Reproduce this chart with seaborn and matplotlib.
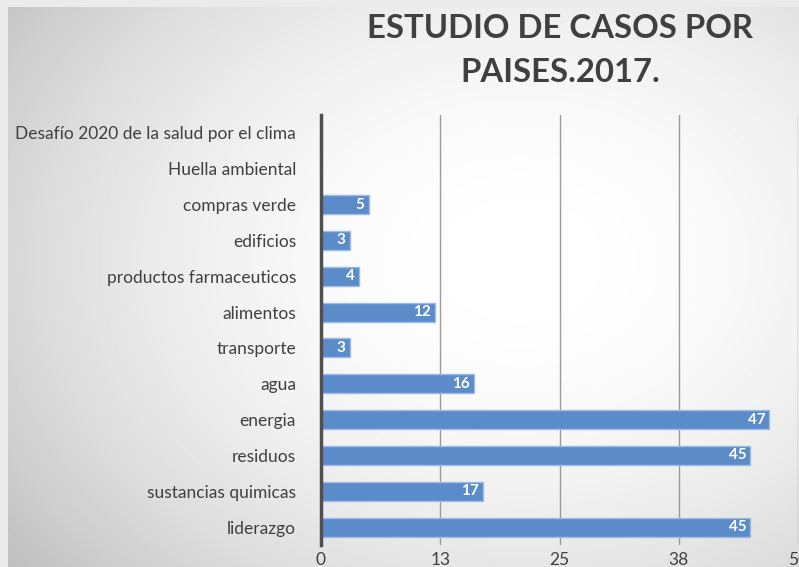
import numpy as np
import pandas as pd
import matplotlib
matplotlib.use("Agg")
import matplotlib.pyplot as plt
import seaborn as sns

# ---- data ----
categories = [
    "Desafío 2020 de la salud por el clima",
    "Huella ambiental",
    "compras verde",
    "edificios",
    "productos farmaceuticos",
    "alimentos",
    "transporte",
    "agua",
    "energia",
    "residuos",
    "sustancias quimicas",
    "liderazgo",
]
values = [0, 0, 5, 3, 4, 12, 3, 16, 47, 45, 17, 45]
tick_values = [0, 12.5, 25, 37.5, 50]
tick_labels = ["0", "13", "25", "38", "50"]
title_lines = ["ESTUDIO DE CASOS POR", "PAISES.2017."]

sns.set_theme(style="white")
plt.rcParams["font.family"] = ["Lato", "DejaVu Sans"]

W, H = 799, 567
fig = plt.figure(figsize=(W / 100, H / 100), dpi=100)

# ---- background gradient ----
yy, xx = np.mgrid[0:H, 0:W]
r2 = ((xx - 520) / 500.0) ** 2 + ((yy - 260) / 380.0) ** 2
grad = 1.0 - 0.15 * r2
grad = np.clip(grad, 0.72, 1.0)
grad[:, :8] = 0.92
grad[:7, :] = 0.92
bg = fig.add_axes([0, 0, 1, 1], zorder=-10)
bg.imshow(grad, cmap="gray", vmin=0, vmax=1, aspect="auto", extent=[0, 1, 0, 1])
bg.axis("off")

# ---- main axes ----
ax = fig.add_axes([321 / W, 1 - 545 / H, 477 / W, (545 - 115) / H])
ax.patch.set_alpha(0)
df = pd.DataFrame({"cat": categories, "val": values})
sns.barplot(data=df, x="val", y="cat", orient="h", color="#5b8cc9",
            saturation=1, width=0.53, edgecolor="#9dbbe3", linewidth=1, ax=ax)

ax.set_xlim(0, 50)
ax.set_xticks(tick_values)
ax.set_xticklabels(tick_labels)
ax.set_xlabel("")
ax.set_ylabel("")
ax.xaxis.grid(True, color="#9a9a9a", linewidth=1)
ax.yaxis.grid(False)
ax.set_axisbelow(True)
ax.tick_params(axis="both", length=0, labelcolor="#404040", labelsize=12.5)
ax.tick_params(axis="y", pad=18)
ax.tick_params(axis="x", pad=5)
for s in ["top", "right", "bottom"]:
    ax.spines[s].set_visible(False)
ax.spines["left"].set_color("#505050")
ax.spines["left"].set_linewidth(2.5)

for patch, v in zip(ax.patches, values):
    if v:
        ax.annotate(str(v), (patch.get_width(), patch.get_y() + patch.get_height() / 2),
                    xytext=(-3, 0), textcoords="offset points", ha="right", va="center",
                    color="white", fontsize=11, fontweight="bold")

# ---- title ----
fig.text(560 / W, 1 - 28 / H, title_lines[0], ha="center", va="center",
         fontsize=23.7, fontweight="bold", color="#404040")
fig.text(560 / W, 1 - 72 / H, title_lines[1], ha="center", va="center",
         fontsize=23.7, fontweight="bold", color="#404040")

fig.savefig("out.png", dpi=100)
